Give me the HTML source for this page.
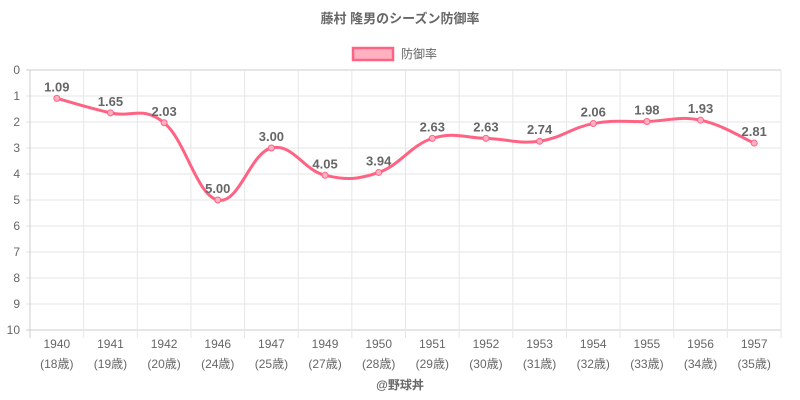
<!DOCTYPE html><html><head><meta charset="utf-8"><style>body{margin:0;background:#fff}svg{display:block;font-family:"Liberation Sans","Noto Sans CJK JP",sans-serif}</style></head><body>
<svg id="s" width="800" height="400" xmlns="http://www.w3.org/2000/svg">
<text x="400" y="23" text-anchor="middle" font-size="13" font-weight="bold" fill="#666">藤村 隆男のシーズン防御率</text>
<rect x="353" y="48" width="40" height="12" fill="#ffb1c1" stroke="#ff6384" stroke-width="2.5"/>
<text x="401" y="58" font-size="12" fill="#666">防御率</text>
<g id="g"></g>
<text x="400" y="389" text-anchor="middle" font-size="12" font-weight="bold" fill="#666">@野球丼</text>
</svg>
<script>
var g=document.getElementById('g'),h='';
var L=30,R=781,T=70,B=330,n=14,w=(R-L)/n;
var yrs=[1940,1941,1942,1946,1947,1949,1950,1951,1952,1953,1954,1955,1956,1957];
var ages=[18,19,20,24,25,27,28,29,30,31,32,33,34,35];
var v=[1.09,1.65,2.03,5.00,3.00,4.05,3.94,2.63,2.63,2.74,2.06,1.98,1.93,2.81];
for(var i=0;i<=10;i++){var y=T+26*i;h+='<line x1="26" x2="'+R+'" y1="'+y+'" y2="'+y+'" stroke="'+(i==0||i==10?'#ccc':'#e6e6e6')+'"/>';h+='<text x="20" y="'+(y+4)+'" text-anchor="end" font-size="12" fill="#666">'+i+'</text>';}
for(var i=0;i<=n;i++){var x=L+w*i;h+='<line x1="'+x+'" x2="'+x+'" y1="'+T+'" y2="'+(B+8)+'" stroke="'+(i==0?'#ccc':'#e6e6e6')+'"/>';}
var px=[],py=[];
for(var i=0;i<n;i++){px.push(L+w*(i+.5));py.push(T+26*v[i]);
h+='<text x="'+px[i]+'" y="348" text-anchor="middle" font-size="12" fill="#666">'+yrs[i]+'</text>';
h+='<text x="'+px[i]+'" y="368" text-anchor="middle" font-size="12" fill="#666">('+ages[i]+'歳)</text>';}
var d='M'+px[0]+','+py[0],t=0.4;
for(var i=0;i<n-1;i++){var p0=i>0?i-1:i,p3=i<n-2?i+2:i+1;
var c1x=px[i]+(px[i+1]-px[p0])*t/2,c1y=py[i]+(py[i+1]-py[p0])*t/2;
var c2x=px[i+1]-(px[p3]-px[i])*t/2,c2y=py[i+1]-(py[p3]-py[i])*t/2;
d+=' C'+c1x+','+c1y+' '+c2x+','+c2y+' '+px[i+1]+','+py[i+1];}
h+='<path d="'+d+'" fill="none" stroke="#ff6384" stroke-width="3"/>';
for(var i=0;i<n;i++){h+='<circle cx="'+px[i]+'" cy="'+py[i]+'" r="3" fill="#ffb1c1" stroke="#ff6384" stroke-width="1"/>';
h+='<text x="'+px[i]+'" y="'+(py[i]-7)+'" text-anchor="middle" font-size="13" font-weight="bold" fill="#666">'+v[i].toFixed(2)+'</text>';}
g.innerHTML=h;
</script></body></html>
